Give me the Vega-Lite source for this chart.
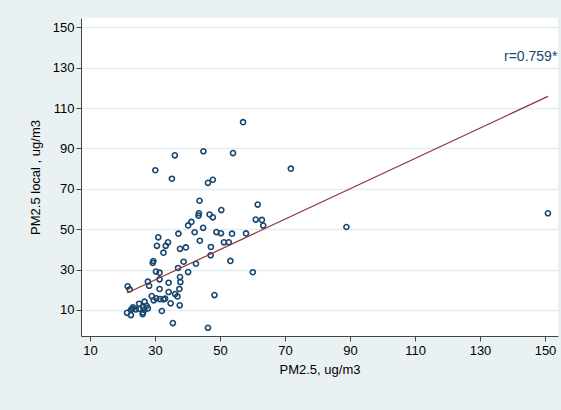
{
  "$schema": "https://vega.github.io/schema/vega-lite/v6.json",
  "width": 477,
  "height": 318,
  "autosize": "none",
  "padding": {"left": 81, "top": 18, "right": 3, "bottom": 74},
  "background": "#eaf1f3",
  "config": {
    "view": {"stroke": null, "fill": "white"},
    "font": "Liberation Sans",
    "axis": {
      "domainColor": "#444444",
      "domainWidth": 1,
      "tickColor": "#444444",
      "tickSize": 5,
      "labelFontSize": 13,
      "labelColor": "#000000",
      "titleFontSize": 13,
      "titleFontWeight": "normal",
      "titleColor": "#000000"
    }
  },
  "datasets": {
    "stations": [
      {"pm25": 57.1, "local": 103.0},
      {"pm25": 30.1, "local": 79.2},
      {"pm25": 36.1, "local": 86.6},
      {"pm25": 44.9, "local": 88.6},
      {"pm25": 54.0, "local": 87.7},
      {"pm25": 71.8, "local": 80.0},
      {"pm25": 35.2, "local": 75.0},
      {"pm25": 46.3, "local": 73.0},
      {"pm25": 47.8, "local": 74.5},
      {"pm25": 88.9, "local": 51.1},
      {"pm25": 150.9, "local": 57.9},
      {"pm25": 43.7, "local": 64.1},
      {"pm25": 61.6, "local": 62.2},
      {"pm25": 50.4, "local": 59.5},
      {"pm25": 43.5, "local": 57.9},
      {"pm25": 43.4, "local": 56.7},
      {"pm25": 46.8, "local": 57.3},
      {"pm25": 47.8, "local": 55.9},
      {"pm25": 61.0, "local": 54.8},
      {"pm25": 62.9, "local": 54.6},
      {"pm25": 63.3, "local": 51.8},
      {"pm25": 41.2, "local": 53.6},
      {"pm25": 40.2, "local": 51.9},
      {"pm25": 44.8, "local": 50.7},
      {"pm25": 42.2, "local": 48.5},
      {"pm25": 37.2, "local": 47.8},
      {"pm25": 31.0, "local": 46.0},
      {"pm25": 48.9, "local": 48.6},
      {"pm25": 50.3, "local": 48.0},
      {"pm25": 53.7, "local": 47.8},
      {"pm25": 58.0, "local": 47.9},
      {"pm25": 43.8, "local": 44.3},
      {"pm25": 34.0, "local": 43.5},
      {"pm25": 33.3, "local": 41.8},
      {"pm25": 30.6, "local": 41.8},
      {"pm25": 39.5, "local": 41.0},
      {"pm25": 37.7, "local": 40.3},
      {"pm25": 51.2, "local": 43.5},
      {"pm25": 52.7, "local": 43.5},
      {"pm25": 47.2, "local": 41.2},
      {"pm25": 32.6, "local": 38.4},
      {"pm25": 29.5, "local": 34.2},
      {"pm25": 29.3, "local": 33.3},
      {"pm25": 37.1, "local": 30.8},
      {"pm25": 38.8, "local": 33.9},
      {"pm25": 42.6, "local": 32.9},
      {"pm25": 47.1, "local": 37.1},
      {"pm25": 53.2, "local": 34.3},
      {"pm25": 40.2, "local": 28.8},
      {"pm25": 60.1, "local": 28.7},
      {"pm25": 30.3, "local": 29.0},
      {"pm25": 31.4, "local": 28.5},
      {"pm25": 27.8, "local": 24.0},
      {"pm25": 28.2, "local": 22.0},
      {"pm25": 21.6, "local": 21.7},
      {"pm25": 22.2, "local": 20.2},
      {"pm25": 31.4, "local": 25.2},
      {"pm25": 31.4, "local": 20.4},
      {"pm25": 37.7, "local": 26.3},
      {"pm25": 37.8, "local": 23.8},
      {"pm25": 37.5, "local": 20.4},
      {"pm25": 34.2, "local": 23.5},
      {"pm25": 34.2, "local": 18.9},
      {"pm25": 36.2, "local": 17.9},
      {"pm25": 48.3, "local": 17.4},
      {"pm25": 29.0, "local": 16.9},
      {"pm25": 30.4, "local": 15.8},
      {"pm25": 31.5, "local": 15.4},
      {"pm25": 32.6, "local": 15.3},
      {"pm25": 33.1, "local": 15.6},
      {"pm25": 29.6, "local": 14.8},
      {"pm25": 26.8, "local": 14.1},
      {"pm25": 27.4, "local": 12.0},
      {"pm25": 25.1, "local": 13.1},
      {"pm25": 23.0, "local": 10.6},
      {"pm25": 24.1, "local": 10.3},
      {"pm25": 21.4, "local": 8.6},
      {"pm25": 22.6, "local": 7.5},
      {"pm25": 26.3, "local": 8.8},
      {"pm25": 27.8, "local": 10.8},
      {"pm25": 26.2, "local": 8.0},
      {"pm25": 26.7, "local": 10.0},
      {"pm25": 25.1, "local": 10.5},
      {"pm25": 26.4, "local": 11.5},
      {"pm25": 32.1, "local": 9.5},
      {"pm25": 34.8, "local": 13.3},
      {"pm25": 37.6, "local": 12.3},
      {"pm25": 35.5, "local": 3.5},
      {"pm25": 46.3, "local": 1.2},
      {"pm25": 23.2, "local": 11.3},
      {"pm25": 22.6, "local": 10.0},
      {"pm25": 36.9, "local": 16.7}
    ],
    "fit": [
      {"pm25": 21.4, "local": 18.4},
      {"pm25": 150.9, "local": 115.8}
    ],
    "note": [
      {"label": "r=0.759*"}
    ]
  },
  "layer": [
    {
      "data": {"name": "stations"},
      "mark": {"type": "point", "shape": "circle", "filled": false, "size": 26, "strokeWidth": 1.6, "color": "#1a476f", "opacity": 1},
      "encoding": {
        "x": {
          "field": "pm25", "type": "quantitative",
          "scale": {"domain": [7.23, 154.0], "nice": false, "zero": false},
          "axis": {"values": [10, 30, 50, 70, 90, 110, 130, 150], "grid": false, "labelPadding": 3, "titlePadding": 6},
          "title": "PM2.5, ug/m3"
        },
        "y": {
          "field": "local", "type": "quantitative",
          "scale": {"domain": [-2.88, 154.6], "nice": false, "zero": false},
          "axis": {"values": [10, 30, 50, 70, 90, 110, 130, 150], "grid": true, "gridColor": "#e4edf0", "gridWidth": 1.5, "labelPadding": 2, "titlePadding": 10},
          "title": "PM2.5 local , ug/m3"
        }
      }
    },
    {
      "data": {"name": "fit"},
      "mark": {"type": "line", "color": "#90353b", "strokeWidth": 1.2},
      "encoding": {
        "x": {"field": "pm25", "type": "quantitative", "title": "PM2.5, ug/m3"},
        "y": {"field": "local", "type": "quantitative", "title": "PM2.5 local , ug/m3"}
      }
    },
    {
      "data": {"name": "note"},
      "mark": {"type": "text", "align": "right", "baseline": "middle", "fontSize": 14, "color": "#1a476f"},
      "encoding": {
        "x": {"datum": 153.8, "type": "quantitative", "title": "PM2.5, ug/m3"},
        "y": {"datum": 135.3, "type": "quantitative", "title": "PM2.5 local , ug/m3"},
        "text": {"field": "label"}
      }
    }
  ]
}
